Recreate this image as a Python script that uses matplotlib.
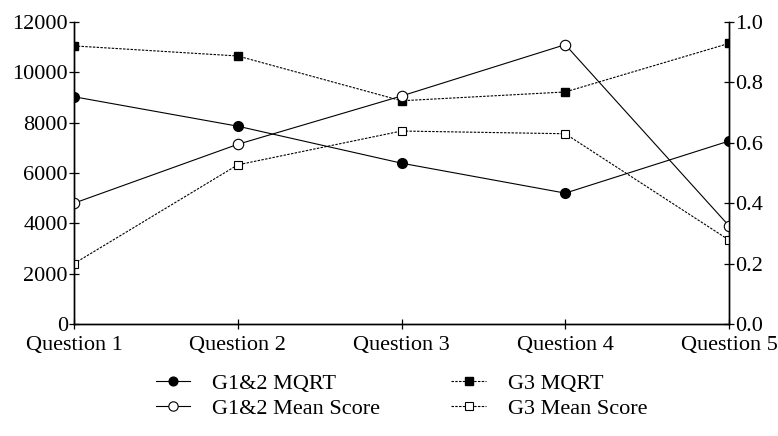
import numpy as np
import matplotlib
matplotlib.use("Agg")
import matplotlib.pyplot as plt

plt.rcParams['font.family'] = ['Liberation Serif', 'DejaVu Serif']
plt.rcParams['font.size'] = 16

# data
questions = ['Question 1', 'Question 2', 'Question 3', 'Question 4', 'Question 5']
g12_mqrt = [9030, 7860, 6390, 5200, 7270]
g3_mqrt = [11050, 10650, 8870, 9220, 11150]
g12_score = [0.40, 0.595, 0.755, 0.925, 0.325]
g3_score = [0.20, 0.527, 0.639, 0.630, 0.278]

fig = plt.figure(figsize=(7.78, 4.36), dpi=100)
ax = fig.add_axes([74 / 778, 1 - 324 / 436, (729 - 74) / 778, (324 - 22) / 436])
ax2 = ax.twinx()

x = np.arange(len(questions))
dot = (0, (2.2, 1.2))

l1, = ax.plot(x, g12_mqrt, color='black', lw=0.8, marker='o', ms=7,
              mfc='black', mec='black', label='G1&2 MQRT')
l2, = ax.plot(x, g3_mqrt, color='black', lw=0.8, ls=dot, marker='s', ms=6,
              mfc='black', mec='black', label='G3 MQRT')
l3, = ax2.plot(x, g12_score, color='black', lw=0.8, marker='o', ms=7.5,
               mfc='white', mec='black', mew=0.8, label='G1&2 Mean Score')
l4, = ax2.plot(x, g3_score, color='black', lw=0.8, ls=dot, marker='s', ms=6,
               mfc='white', mec='black', mew=0.8, label='G3 Mean Score')

ax.set_xlim(0, 4)
ax.set_ylim(0, 12000)
ax2.set_ylim(0, 1.0)
ax.set_xticks(x)
ax.set_xticklabels(questions)
ax.set_yticks(np.arange(0, 12001, 2000))
ax2.set_yticks(np.arange(0, 1.01, 0.2))
ax2.set_yticklabels(['%.1f' % v for v in np.arange(0, 1.01, 0.2)])

for a in (ax, ax2):
    a.spines['top'].set_visible(False)
    for s in a.spines.values():
        s.set_linewidth(1.0)
    a.tick_params(direction='inout', length=7, width=0.9, pad=1, labelsize=16)
ax.tick_params(axis='x', pad=5)

fig.legend(handles=[l1, l3, l2, l4], loc='upper center',
           bbox_to_anchor=(401.5 / 778, 1 - 362 / 436), ncol=2, frameon=False,
           fontsize=16, handlelength=1.55, handletextpad=1.0,
           columnspacing=3.2, labelspacing=0.2, borderpad=0, markerscale=0.9)

fig.savefig('out.png', dpi=100)
